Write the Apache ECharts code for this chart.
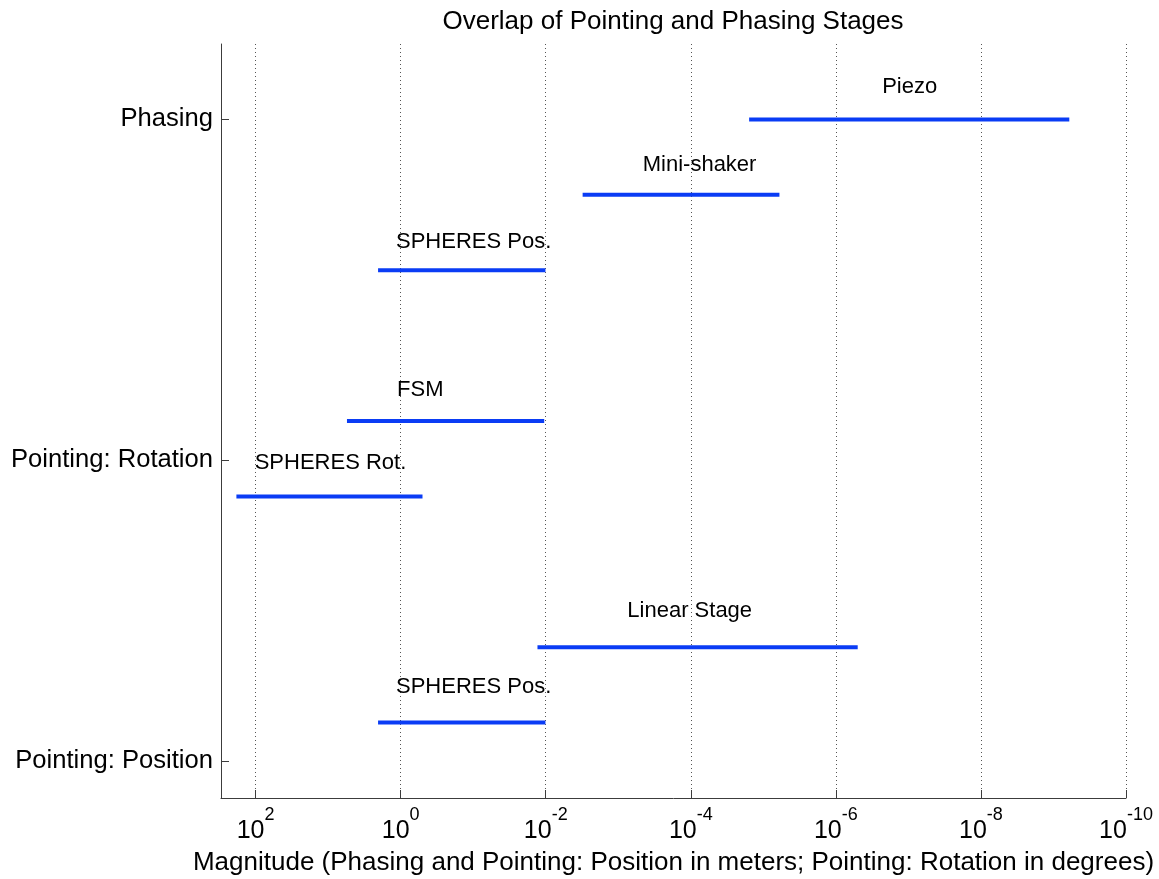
<!DOCTYPE html>
<html>
<head>
<meta charset="utf-8">
<script src="https://cdn.jsdelivr.net/npm/echarts@6/dist/echarts.min.js"></script>
<style>
  html, body { margin: 0; padding: 0; background: #fff; }
  #chart { width: 1159px; height: 879px; }
</style>
</head>
<body>
<div id="chart"></div>
<script>
// ---- data ----
const stageNames = ['Piezo', 'Mini-shaker', 'SPHERES Pos.', 'FSM', 'SPHERES Rot.', 'Linear Stage', 'SPHERES Pos.'];
const stageLevel = [9, 8, 7, 5, 4, 2, 1];
const rangeHigh = [1.57e-5, 3.1e-3, 2.05, 5.5, 184, 0.013, 2.05];
const rangeLow = [6.05e-10, 6.0e-6, 0.0101, 0.0105, 0.50, 5.0e-7, 0.0101];
// text annotation anchors (data coordinates)
const textX = [2.3e-7, 4.6e-4, 1.16, 1.12, 103, 7.5e-4, 1.16];
const textY = [9.43, 8.40, 7.37, 5.41, 4.44, 2.48, 1.47];
// axis ticks
const yTickValues = [0.49, 4.48, 9];
const yTickLabels = ['Pointing: Position', 'Pointing: Rotation', 'Phasing'];
const xTickValues = [1e2, 1e0, 1e-2, 1e-4, 1e-6, 1e-8, 1e-10];

const FONT = '"Liberation Sans", Arial, Helvetica, sans-serif';
const AXIS_COLOR = '#3c3c3c';
const LINE_COLOR = '#0a3cf5';

const chart = echarts.init(document.getElementById('chart'), null, { renderer: 'canvas' });

const lineSeries = stageNames.map((name, i) => ({
  type: 'line',
  name: name,
  data: [[rangeHigh[i], stageLevel[i]], [rangeLow[i], stageLevel[i]]],
  symbol: 'none',
  lineStyle: { color: LINE_COLOR, width: 4 },
  silent: true,
  animation: false
}));

const textSeries = {
  type: 'scatter',
  symbolSize: 0,
  silent: true,
  animation: false,
  itemStyle: { opacity: 1 },
  data: stageNames.map((name, i) => ({ value: [textX[i], textY[i]], name: name })),
  label: {
    show: true,
    position: 'right',
    distance: 0,
    formatter: p => p.name,
    color: '#000000',
    opacity: 1,
    textBorderWidth: 0,
    fontFamily: FONT,
    fontSize: 22
  }
};

chart.setOption({
  backgroundColor: '#ffffff',
  animation: false,
  title: {
    text: 'Overlap of Pointing and Phasing Stages',
    left: 668,
    textAlign: 'center',
    top: 4,
    textStyle: { fontFamily: FONT, fontSize: 26, fontWeight: 'normal', color: '#000' }
  },
  grid: { left: 221, right: 33, top: 44, bottom: 81, outerBoundsMode: 'none' },
  xAxis: {
    type: 'log',
    logBase: 10,
    inverse: true,
    min: 1e-10,
    max: 300,
    name: 'Magnitude (Phasing and Pointing: Position in meters; Pointing: Rotation in degrees)',
    nameLocation: 'middle',
    nameGap: 52,
    nameTextStyle: { fontFamily: FONT, fontSize: 26, color: '#000' },
    axisLine: { show: true, lineStyle: { color: AXIS_COLOR, width: 1 } },
    axisTick: { show: true, inside: true, length: 8, customValues: xTickValues, lineStyle: { color: AXIS_COLOR } },
    axisLabel: {
      customValues: xTickValues,
      margin: 8,
      formatter: v => '{b|10}{s|' + Math.round(Math.log10(v)) + '}',
      rich: {
        b: { fontFamily: FONT, fontSize: 25, color: '#000', lineHeight: 38, verticalAlign: 'bottom' },
        s: { fontFamily: FONT, fontSize: 18, color: '#000', lineHeight: 14, verticalAlign: 'top' }
      }
    },
    splitLine: { show: true, lineStyle: { color: '#555', width: 1, type: [1, 3] } }
  },
  yAxis: {
    type: 'value',
    min: 0,
    max: 10,
    axisLine: { show: true, lineStyle: { color: AXIS_COLOR, width: 1 } },
    axisTick: { show: true, inside: true, length: 8, customValues: yTickValues, lineStyle: { color: AXIS_COLOR } },
    axisLabel: {
      customValues: yTickValues,
      margin: 8,
      fontFamily: FONT,
      fontSize: 25.6,
      color: '#000',
      padding: [4, 0, 0, 0],
      formatter: v => {
        const k = yTickValues.findIndex(t => Math.abs(t - v) < 1e-6);
        return k >= 0 ? yTickLabels[k] : '';
      }
    },
    splitLine: { show: false }
  },
  series: lineSeries.concat([textSeries])
});
</script>
</body>
</html>
